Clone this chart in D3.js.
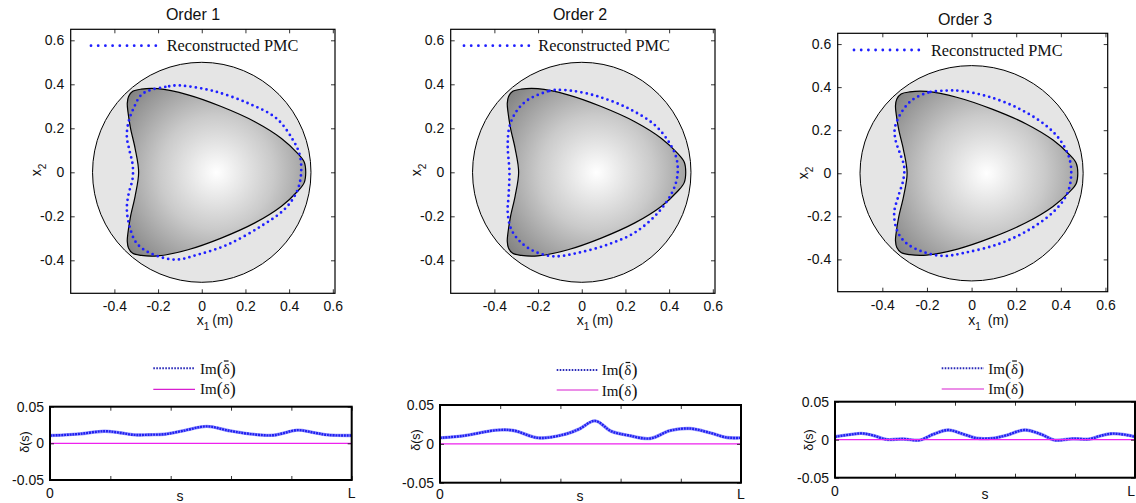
<!DOCTYPE html>
<html><head><meta charset="utf-8">
<script src="https://cdn.jsdelivr.net/npm/d3@7"></script>
<style>
body{margin:0;background:#fff}
svg{display:block}
.sans{font-family:"Liberation Sans",Arial,Helvetica,sans-serif}
.serif{font-family:"Liberation Serif","Times New Roman",serif}
</style>
</head><body>
<svg id="c" width="1136" height="503"></svg>
<script>
// ---------------- DATA ----------------
const titles = ["Order 1", "Order 2", "Order 3"];
const xTicks = [-0.4, -0.2, 0, 0.2, 0.4, 0.6];
const yTicks = [-0.4, -0.2, 0, 0.2, 0.4, 0.6];
const xDomain = [-0.6, 0.61];
const yDomain = [-0.55, 0.65];
const circleRadius = 0.5;
const gradientCenter = [0.067, 0];

// true PMC boundary (closed)
const shapeX = [0.476, 0.469, 0.44, 0.365, 0.243, 0.089, -0.063, -0.201, -0.277, -0.316, -0.335, -0.341, -0.338, -0.326, -0.305, -0.289,
                -0.305, -0.326, -0.338, -0.341, -0.335, -0.316, -0.277, -0.201, -0.063, 0.089, 0.243, 0.365, 0.44, 0.469];
const shapeY = [0, 0.047, 0.085, 0.154, 0.23, 0.299, 0.352, 0.38, 0.378, 0.368, 0.345, 0.314, 0.276, 0.2, 0.108, 0,
                -0.108, -0.2, -0.276, -0.314, -0.345, -0.368, -0.378, -0.38, -0.352, -0.299, -0.23, -0.154, -0.085, -0.047];

// reconstructed PMC, order 1
const recon1 = [[-0.117,0.395],[-0.167,0.388],[-0.232,0.375],[-0.277,0.352],[-0.312,0.291],[-0.335,0.230],[-0.343,0.161],
  [-0.331,0.1],[-0.316,0.031],[-0.317,-0.031],[-0.335,-0.099],[-0.343,-0.167],[-0.331,-0.244],[-0.300,-0.320],[-0.239,-0.366],
  [-0.124,-0.397],[-0.017,-0.374],[0.12,-0.328],[0.273,-0.244],[0.38,-0.167],[0.434,-0.091],[0.454,-0.015],[0.449,0.077],
  [0.418,0.146],[0.342,0.245],[0.212,0.314],[0.059,0.368],[-0.063,0.391]];
// order 2
const recon2 = [[-0.124,0.374],[-0.155,0.368],[-0.247,0.329],[-0.300,0.276],[-0.331,0.207],[-0.339,0.123],[-0.331,0],
  [-0.335,-0.106],[-0.339,-0.183],[-0.323,-0.259],[-0.277,-0.320],[-0.209,-0.363],[-0.124,-0.382],[-0.017,-0.366],
  [0.12,-0.328],[0.243,-0.274],[0.350,-0.183],[0.414,-0.091],[0.438,-0.015],[0.434,0.062],[0.403,0.131],[0.334,0.215],
  [0.212,0.291],[0.074,0.345],[-0.048,0.371]];
// order 3
const recon3 = [[-0.112,0.384],[-0.194,0.375],[-0.269,0.338],[-0.317,0.278],[-0.344,0.210],[-0.341,0.155],[-0.321,0.092],
  [-0.302,0.031],[-0.306,-0.031],[-0.329,-0.109],[-0.347,-0.186],[-0.332,-0.271],[-0.291,-0.326],[-0.217,-0.365],
  [-0.127,-0.384],[-0.030,-0.369],[0.120,-0.329],[0.255,-0.264],[0.367,-0.179],[0.426,-0.101],[0.446,-0.015],[0.438,0.070],
  [0.396,0.155],[0.329,0.225],[0.209,0.302],[0.075,0.356],[-0.045,0.382]];
const recons = [recon1, recon2, recon3];

// lower plots: Im(delta-bar) along s in [0, L] (s as fraction of L)
const sTicks = [0, 0.2, 0.4, 0.6, 0.8, 1];
const sLabels = ["0", "", "", "", "", "L"];
const deltaTicks = [-0.05, 0, 0.05];
const imBar1 = [[0,0.0107],[0.05,0.0115],[0.10,0.0130],[0.18,0.0166],[0.23,0.0145],[0.28,0.0116],[0.33,0.0118],[0.38,0.0125],
  [0.44,0.0170],[0.52,0.0232],[0.59,0.0175],[0.66,0.0130],[0.74,0.0111],[0.82,0.0180],[0.87,0.0150],[0.92,0.0115],[1.0,0.0107]];
const imBar2 = [[0,0.0077],[0.077,0.0103],[0.188,0.0176],[0.244,0.0172],[0.326,0.0077],[0.410,0.0118],[0.462,0.0190],
  [0.515,0.0296],[0.570,0.0160],[0.625,0.0110],[0.698,0.0069],[0.764,0.0170],[0.83,0.0197],[0.897,0.0142],[0.952,0.0082],[1.0,0.0077]];
const imBar3 = [[0,0.0039],[0.049,0.0066],[0.088,0.0083],[0.127,0.0057],[0.171,0.0004],[0.227,0.0009],[0.282,-0.0005],
  [0.327,0.0070],[0.377,0.0127],[0.427,0.0074],[0.471,0.0021],[0.527,0.0021],[0.571,0.0057],[0.632,0.0127],[0.688,0.0070],
  [0.732,-0.0005],[0.793,0.0013],[0.849,0.0009],[0.882,0.0048],[0.921,0.0079],[0.966,0.0066],[1.0,0.0039]];
const imBars = [imBar1, imBar2, imBar3];
const imDelta = [[0,0],[1,0]];

// ---------------- LAYOUT ----------------
const topPanels = [
  {l:70.7, r:335, t:29.3, b:293.3, titleX:193, titleY:20, legX1:91, legX2:157, legY:45.7, legTX:166.7, legTY:51,
   xlabX:196.7, xlabY:325, ylabX:41, ylabY:170, xlabSp:""},
  {l:450.7, r:715, t:29.3, b:293.3, titleX:580, titleY:20, legX1:464, legX2:532, legY:45.7, legTX:538.3, legTY:51,
   xlabX:576.7, xlabY:325, ylabX:421, ylabY:170, xlabSp:""},
  {l:837.7, r:1107.7, t:33.3, b:291.7, titleX:965, titleY:25, legX1:854, legX2:920, legY:50, legTX:931, legTY:55.5,
   xlabX:968.3, xlabY:325, ylabX:808, ylabY:173, xlabSp:" "}
];
const botPanels = [
  {l:50, r:351.7, t:406.7, b:480, legX1:153.3, legX2:195, legY1:368.3, legY2:389.3, legTX:200, legTY1:373.5, legTY2:394,
   sX:180, sY:501, ylabX:29, ylabY:442, xlabY:498.3, lastAnchor:"middle"},
  {l:440, r:741, t:405, b:482.7, legX1:556.7, legX2:598.3, legY1:370, legY2:390, legTX:601.7, legTY1:375, legTY2:395.5,
   sX:580, sY:500.7, ylabX:420, ylabY:440, xlabY:499.3, lastAnchor:"middle"},
  {l:835, r:1135, t:401.7, b:477.7, legX1:941.7, legX2:984, legY1:368.3, legY2:389, legTX:988.3, legTY1:373.5, legTY2:394,
   sX:985, sY:499.3, ylabX:813, ylabY:440, xlabY:496, lastAnchor:"end"}
];

const svg = d3.select("#c");
const defs = svg.append("defs");
const fmt = d => d === 0 ? "0" : (d < 0 ? "-" : "") + Math.abs(d).toFixed(1);
const fmt2 = d => d === 0 ? "0" : (d < 0 ? "-" : "") + Math.abs(d).toFixed(2);
const reconColor = "#1f1fff";
const magenta = "#ee22ee";

topPanels.forEach((p, i) => {
  const x = d3.scaleLinear().domain(xDomain).range([p.l, p.r]);
  const y = d3.scaleLinear().domain(yDomain).range([p.b, p.t]);
  const g = svg.append("g");
  const kx = x(1) - x(0);

  const clipId = "clip" + i;
  defs.append("clipPath").attr("id", clipId).append("rect")
    .attr("x", p.l).attr("y", p.t).attr("width", p.r - p.l).attr("height", p.b - p.t);

  const gradId = "grad" + i;
  const grad = defs.append("radialGradient").attr("id", gradId).attr("gradientUnits", "userSpaceOnUse")
    .attr("cx", x(gradientCenter[0])).attr("cy", y(gradientCenter[1])).attr("r", 0.58 * kx);
  grad.append("stop").attr("offset", 0).attr("stop-color", "#ffffff");
  grad.append("stop").attr("offset", 0.45).attr("stop-color", "#cacaca");
  grad.append("stop").attr("offset", 1).attr("stop-color", "#767676");

  const plot = g.append("g").attr("clip-path", `url(#${clipId})`);
  plot.append("ellipse")
    .attr("cx", x(0)).attr("cy", y(0))
    .attr("rx", x(circleRadius) - x(0)).attr("ry", y(0) - y(circleRadius))
    .attr("fill", "#e5e5e5").attr("stroke", "#000").attr("stroke-width", 1);

  const shape = shapeX.map((v, k) => [v, shapeY[k]]);
  const closedLine = d3.line().x(d => x(d[0])).y(d => y(d[1])).curve(d3.curveCatmullRomClosed.alpha(0.5));
  plot.append("path").attr("d", closedLine(shape))
    .attr("fill", `url(#${gradId})`).attr("stroke", "#000").attr("stroke-width", 1.2);

  plot.append("path").attr("d", closedLine(recons[i]))
    .attr("fill", "none").attr("stroke", reconColor).attr("stroke-width", 2.8)
    .attr("stroke-linecap", "round").attr("stroke-dasharray", "0 5.4");

  const ax = g.append("g").attr("class", "sans");
  ax.append("g").attr("transform", `translate(0,${p.b})`)
    .call(d3.axisBottom(x).tickValues(xTicks).tickSize(-4).tickPadding(8).tickFormat(fmt));
  ax.append("g").attr("transform", `translate(${p.l},0)`)
    .call(d3.axisLeft(y).tickValues(yTicks).tickSize(-4).tickPadding(6.5).tickFormat(fmt));
  ax.append("g").attr("transform", `translate(0,${p.t})`)
    .call(d3.axisTop(x).tickValues(xTicks).tickSize(-4).tickFormat(""));
  ax.append("g").attr("transform", `translate(${p.r},0)`)
    .call(d3.axisRight(y).tickValues(yTicks).tickSize(-4).tickFormat(""));
  ax.selectAll(".domain").remove();
  ax.selectAll(".tick line").attr("stroke", "#000").attr("stroke-width", 0.8);
  ax.selectAll("text").attr("font-size", 14).attr("fill", "#111")
    .attr("font-family", '"Liberation Sans",Arial,sans-serif');

  g.append("rect").attr("x", p.l).attr("y", p.t).attr("width", p.r - p.l).attr("height", p.b - p.t)
    .attr("fill", "none").attr("stroke", "#000").attr("stroke-width", 1.2);

  g.append("text").attr("class", "sans").attr("x", p.titleX).attr("y", p.titleY)
    .attr("text-anchor", "middle").attr("font-size", 16).attr("fill", "#111").text(titles[i]);

  g.append("line").attr("x1", p.legX1).attr("x2", p.legX2).attr("y1", p.legY).attr("y2", p.legY)
    .attr("stroke", reconColor).attr("stroke-width", 2.8).attr("stroke-linecap", "round").attr("stroke-dasharray", "0 7.2");
  g.append("text").attr("class", "serif").attr("x", p.legTX).attr("y", p.legTY)
    .attr("font-size", 16.3).attr("fill", "#111").text("Reconstructed PMC");

  const xl = g.append("text").attr("class", "sans").attr("x", p.xlabX).attr("y", p.xlabY)
    .attr("font-size", 14).attr("fill", "#111");
  xl.append("tspan").text("x");
  xl.append("tspan").attr("dy", 4.5).attr("font-size", 10).text("1");
  xl.append("tspan").attr("dy", -4.5).attr("dx", 3).text(p.xlabSp + "(m)");

  const yl = g.append("text").attr("class", "sans")
    .attr("transform", `translate(${p.ylabX},${p.ylabY}) rotate(-90)`)
    .attr("text-anchor", "middle").attr("font-size", 14).attr("fill", "#111");
  yl.append("tspan").text("x");
  yl.append("tspan").attr("dy", 4.5).attr("font-size", 10).text("2");
});

botPanels.forEach((p, i) => {
  const x = d3.scaleLinear().domain([0, 1]).range([p.l, p.r]);
  const y = d3.scaleLinear().domain([-0.05, 0.05]).range([p.b, p.t]);
  const g = svg.append("g");

  const line = d3.line().x(d => x(d[0])).y(d => y(d[1])).curve(d3.curveCatmullRom.alpha(0.5));
  g.append("path").attr("d", line(imBars[i]))
    .attr("fill", "none").attr("stroke", "#9a9aff").attr("stroke-width", 3.4);
  g.append("path").attr("d", line(imBars[i]))
    .attr("fill", "none").attr("stroke", "#2020f0").attr("stroke-width", 2.4).attr("stroke-dasharray", "2 0.8");
  g.append("path").attr("d", line(imDelta))
    .attr("fill", "none").attr("stroke", magenta).attr("stroke-width", 1.3);

  const ax = g.append("g");
  ax.append("g").attr("transform", `translate(0,${p.b})`)
    .call(d3.axisBottom(x).tickValues(sTicks).tickSize(-4).tickFormat(""));
  ax.append("g").attr("transform", `translate(0,${p.t})`)
    .call(d3.axisTop(x).tickValues(sTicks).tickSize(-4).tickFormat(""));
  ax.append("g").attr("transform", `translate(${p.l},0)`)
    .call(d3.axisLeft(y).tickValues(deltaTicks).tickSize(-4).tickPadding(6).tickFormat(fmt2));
  ax.append("g").attr("transform", `translate(${p.r},0)`)
    .call(d3.axisRight(y).tickValues(deltaTicks).tickSize(-4).tickFormat(""));
  ax.selectAll(".domain").remove();
  ax.selectAll(".tick line").attr("stroke", "#000").attr("stroke-width", 0.8);
  ax.selectAll("text").attr("font-size", 14).attr("fill", "#111")
    .attr("font-family", '"Liberation Sans",Arial,sans-serif');

  g.selectAll(".slab").data(sTicks.filter((d, k) => sLabels[k] !== "")).enter().append("text")
    .attr("class", "sans").attr("x", d => x(d)).attr("y", p.xlabY)
    .attr("text-anchor", d => d === 1 ? p.lastAnchor : "middle")
    .attr("font-size", 14).attr("fill", "#111")
    .text(d => sLabels[sTicks.indexOf(d)]);

  g.append("rect").attr("x", p.l).attr("y", p.t).attr("width", p.r - p.l).attr("height", p.b - p.t)
    .attr("fill", "none").attr("stroke", "#000").attr("stroke-width", 2);

  g.append("text").attr("class", "sans").attr("x", p.sX).attr("y", p.sY)
    .attr("text-anchor", "middle").attr("font-size", 14).attr("fill", "#111").text("s");

  g.append("text").attr("class", "sans")
    .attr("transform", `translate(${p.ylabX},${p.ylabY}) rotate(-90)`)
    .attr("text-anchor", "middle").attr("font-size", 12.5).attr("fill", "#111").text("δ(s)");

  g.append("line").attr("x1", p.legX1).attr("x2", p.legX2).attr("y1", p.legY1).attr("y2", p.legY1)
    .attr("stroke", "#2a2ab8").attr("stroke-width", 2).attr("stroke-dasharray", "1.6 1.4");
  g.append("line").attr("x1", p.legX1).attr("x2", p.legX2).attr("y1", p.legY2).attr("y2", p.legY2)
    .attr("stroke", "#d81ed0").attr("stroke-width", 1.2);
  [[p.legTY1, true], [p.legTY2, false]].forEach(([ty, bar]) => {
    const t = g.append("text").attr("class", "serif").attr("x", p.legTX).attr("y", ty)
      .attr("font-size", 15).attr("fill", "#111");
    t.append("tspan").text("Im");
    t.append("tspan").attr("font-size", 18).attr("dy", 1).text("(");
    t.append("tspan").attr("dy", -1).text("δ");
    t.append("tspan").attr("font-size", 18).attr("dy", 1).text(")");
    if (bar) {
      const ext = t.node().getExtentOfChar(3);
      g.append("line")
        .attr("x1", ext.x + 1.2).attr("x2", ext.x + ext.width - 1.2)
        .attr("y1", ext.y + 0.5).attr("y2", ext.y + 0.5)
        .attr("stroke", "#111").attr("stroke-width", 1.2);
    }
  });
});
</script>
</body></html>
